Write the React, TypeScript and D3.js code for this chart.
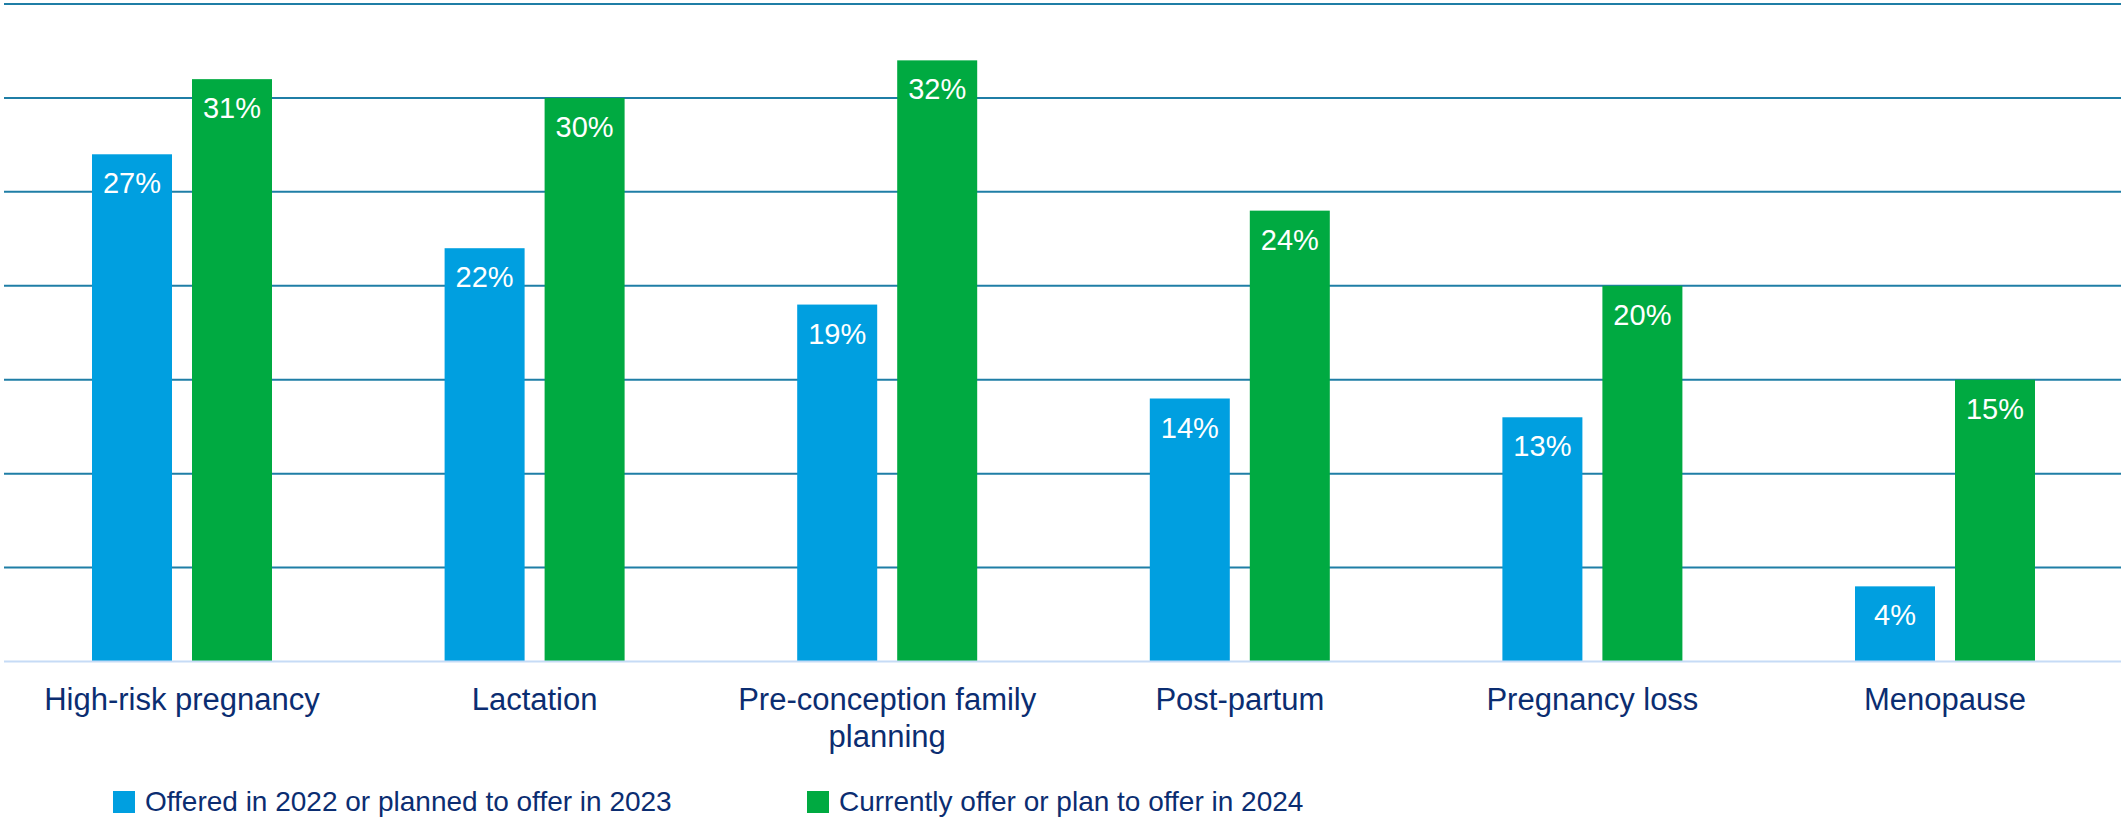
import React from 'react';
import * as d3 from 'd3';

// data
const categories = [
  'High-risk pregnancy',
  'Lactation',
  'Pre-conception family planning',
  'Post-partum',
  'Pregnancy loss',
  'Menopause',
];
const categoryLines = [
  ['High-risk pregnancy'],
  ['Lactation'],
  ['Pre-conception family', 'planning'],
  ['Post-partum'],
  ['Pregnancy loss'],
  ['Menopause'],
];
const seriesNames = ['Offered in 2022 or planned to offer in 2023', 'Currently offer or plan to offer in 2024'];
const offered2023 = [27, 22, 19, 14, 13, 4];
const offer2024 = [31, 30, 32, 24, 20, 15];
const gridTicks = [5, 10, 15, 20, 25, 30, 35];

const COLORS = ['#009fe0', '#00aa41'];
const NAVY = '#0b2d71';
const FONT = '"Liberation Sans", Arial, Helvetica, sans-serif';

const W = 2123;
const H = 822;

const App: React.FC = () => {
  const x = d3.scaleBand<string>().domain(categories).range([5.7, 2121.3]).padding(0);
  const bw = x.bandwidth();
  const groupW = 180;
  const xs = d3
    .scaleBand<string>()
    .domain(seriesNames)
    .range([(bw - groupW) / 2, (bw + groupW) / 2])
    .paddingInner(0.2)
    .paddingOuter(0);

  const y = d3.scaleLinear().domain([0, 35]).range([661.5, 4]);
  const series = [offered2023, offer2024];

  return (
    <svg
      width={W}
      height={H}
      viewBox={`0 0 ${W} ${H}`}
      style={{ position: 'absolute', left: 0, top: 0, background: '#fff' }}
    >
      {/* grid */}
      <g>
        {gridTicks.map(t => (
          <line key={t} x1={4} x2={2121} y1={y(t)} y2={y(t)} stroke="#1f7ea6" strokeWidth={2} />
        ))}
      </g>

      {/* bars */}
      {series.map((vals, si) => (
        <g key={si}>
          {vals.map((v, i) => {
            const bx = (x(categories[i]) ?? 0) + (xs(seriesNames[si]) ?? 0);
            return (
              <g key={i}>
                <rect x={bx} y={y(v)} width={xs.bandwidth()} height={y(0) - y(v)} fill={COLORS[si]} />
                <text
                  x={bx + xs.bandwidth() / 2}
                  y={y(v) + 39}
                  textAnchor="middle"
                  fill="#fff"
                  fontFamily={FONT}
                  fontSize={29}
                >
                  {v}%
                </text>
              </g>
            );
          })}
        </g>
      ))}

      {/* baseline */}
      <line x1={4} x2={2121} y1={y(0)} y2={y(0)} stroke="#c6dbf6" strokeWidth={2} />

      {/* category labels */}
      {categoryLines.map((lines, i) => {
        const cx = (x(categories[i]) ?? 0) + bw / 2;
        return (
          <g key={i}>
            {lines.map((ln, li) => (
              <text
                key={li}
                x={cx}
                y={710 + li * 37}
                textAnchor="middle"
                fill={NAVY}
                fontFamily={FONT}
                fontSize={31}
              >
                {ln}
              </text>
            ))}
          </g>
        );
      })}

      {/* legend */}
      {seriesNames.map((name, si) => {
        const lx = si === 0 ? 113 : 807;
        return (
          <g key={name}>
            <rect x={lx} y={791} width={22} height={22} fill={COLORS[si]} />
            <text x={lx + 32} y={811} fill={NAVY} fontFamily={FONT} fontSize={28}>
              {name}
            </text>
          </g>
        );
      })}
    </svg>
  );
};

export default App;
